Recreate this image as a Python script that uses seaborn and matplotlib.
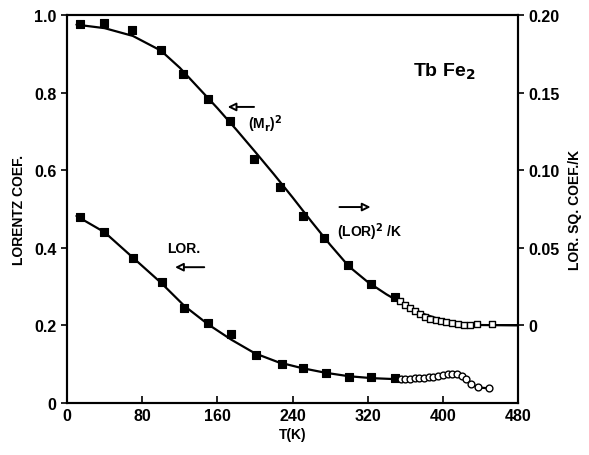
import matplotlib
matplotlib.use("Agg")
import matplotlib.pyplot as plt
import seaborn as sns
import pandas as pd

# ---- data ----
# upper series: (M_r)^2 and (LOR)^2/K (left-axis units)
t_upper = [14, 39, 69, 100, 123, 150, 173, 199, 227, 251, 274, 299, 324, 349]
v_upper = [0.977, 0.979, 0.961, 0.910, 0.848, 0.784, 0.727, 0.629, 0.556, 0.482, 0.425, 0.356, 0.307, 0.273]
t_upper_dense = [354, 360, 365, 370, 376, 381, 386, 393, 398, 403, 410, 416, 422, 429, 436, 452]
v_upper_dense = [0.263, 0.253, 0.245, 0.237, 0.229, 0.222, 0.216, 0.214, 0.211, 0.209, 0.206, 0.204, 0.201, 0.201, 0.204, 0.204]
t_upper_fit = [10, 40, 70, 100, 120, 140, 160, 180, 200, 220, 240, 260, 280, 300, 320, 340, 360, 380, 400, 420, 440, 480]
v_upper_fit = [0.975, 0.966, 0.946, 0.908, 0.864, 0.812, 0.760, 0.705, 0.648, 0.590, 0.530, 0.468, 0.408, 0.352, 0.312, 0.280, 0.252, 0.229, 0.213, 0.204, 0.201, 0.200]

# lower series: LOR.
t_lower = [14, 39, 70, 101, 125, 150, 175, 201, 229, 251, 276, 300, 324, 349]
v_lower = [0.480, 0.440, 0.374, 0.312, 0.245, 0.206, 0.178, 0.124, 0.100, 0.090, 0.077, 0.067, 0.067, 0.064]
t_lower_dense = [355, 360, 365, 370, 375, 380, 385, 390, 395, 400, 405, 410, 415, 420, 425, 430, 437, 449]
v_lower_dense = [0.062, 0.063, 0.063, 0.064, 0.064, 0.065, 0.066, 0.067, 0.069, 0.072, 0.074, 0.076, 0.074, 0.070, 0.062, 0.050, 0.040, 0.038]
t_lower_fit = [10, 40, 70, 100, 125, 150, 175, 200, 225, 250, 275, 300, 325, 345]
v_lower_fit = [0.482, 0.440, 0.375, 0.310, 0.250, 0.203, 0.163, 0.128, 0.105, 0.090, 0.078, 0.069, 0.064, 0.062]

x_ticks = [0, 80, 160, 240, 320, 400, 480]
y_left_ticks = [0, 0.2, 0.4, 0.6, 0.8, 1.0]
y_left_labels = ["0", "0.2", "0.4", "0.6", "0.8", "1.0"]
y_right_ticks = [0, 0.05, 0.10, 0.15, 0.20]
y_right_labels = ["0", "0.05", "0.10", "0.15", "0.20"]

sns.set_style("ticks")
plt.rcParams['font.family'] = ['Liberation Sans', 'DejaVu Sans']
plt.rcParams['font.weight'] = 'bold'
plt.rcParams['text.color'] = 'black'
plt.rcParams['axes.labelcolor'] = 'black'
plt.rcParams['xtick.color'] = 'black'
plt.rcParams['ytick.color'] = 'black'

fig = plt.figure(figsize=(5.89, 4.56), dpi=100)
ax = fig.add_axes([0.1138, 0.114, 0.7657, 0.851])

# fit lines
sns.lineplot(x=t_upper_fit, y=v_upper_fit, ax=ax, color="black", lw=1.6, estimator=None, sort=False)
lower_line_t = t_lower_fit + t_lower_dense
lower_line_v = v_lower_fit + v_lower_dense
sns.lineplot(x=lower_line_t, y=lower_line_v, ax=ax, color="black", lw=1.6, estimator=None, sort=False)
sns.lineplot(x=[452, 480], y=[0.2, 0.2], ax=ax, color="black", lw=1.4)

# markers
sns.scatterplot(x=t_upper, y=v_upper, ax=ax, marker="s", s=32, color="black", edgecolor="black", linewidth=0.8, zorder=3)
sns.scatterplot(x=t_lower, y=v_lower, ax=ax, marker="s", s=32, color="black", edgecolor="black", linewidth=0.8, zorder=3)
sns.scatterplot(x=t_upper_dense, y=v_upper_dense, ax=ax, marker="s", s=24, color="white", edgecolor="black", linewidth=1.0, zorder=3)
sns.scatterplot(x=t_lower_dense, y=v_lower_dense, ax=ax, marker="o", s=24, color="white", edgecolor="black", linewidth=1.0, zorder=3)

ax.set_xlim(0, 480)
ax.set_ylim(0, 1.0)
ax.set_xticks(x_ticks)
ax.set_xticklabels([str(v) for v in x_ticks], fontsize=11.5, fontweight="bold")
ax.set_yticks(y_left_ticks)
ax.set_yticklabels(y_left_labels, fontsize=11.5, fontweight="bold")
ax.tick_params(axis="x", direction="in", length=5, width=1.2)
ax.tick_params(axis="y", direction="out", length=4, width=1.2)
ax.set_xlabel("T(K)", fontsize=10, fontweight="bold", labelpad=3)
ax.set_ylabel("LORENTZ COEF.", fontsize=10, fontweight="bold", labelpad=6)
for sp in ax.spines.values():
    sp.set_visible(True)
    sp.set_linewidth(1.5)
    sp.set_color("black")

ax2 = ax.twinx()
ax2.set_ylim(-0.05, 0.20)
ax2.set_yticks(y_right_ticks)
ax2.set_yticklabels(y_right_labels, fontsize=11.5, fontweight="bold")
ax2.tick_params(axis="y", direction="out", length=4, width=1.2)
ax2.set_ylabel("LOR. SQ. COEF./K", fontsize=10, fontweight="bold", labelpad=6)
for sp in ax2.spines.values():
    sp.set_linewidth(1.5)
    sp.set_color("black")

# annotations
ax.text(368, 0.856, "Tb Fe$_2$", fontsize=14, fontweight="bold", va="center", ha="left")
ax.annotate("", xy=(168, 0.763), xytext=(202, 0.763),
            arrowprops=dict(arrowstyle="-|>", fc="white", ec="black", lw=1.4, mutation_scale=12))
ax.text(193, 0.72, "(M$_\\mathbf{r}$)$^\\mathbf{2}$", fontsize=10, fontweight="bold", va="center", ha="left")
ax.annotate("", xy=(326, 0.505), xytext=(287, 0.505),
            arrowprops=dict(arrowstyle="-|>", fc="white", ec="black", lw=1.4, mutation_scale=12))
ax.text(287, 0.443, "(LOR)$^\\mathbf{2}$ /K", fontsize=10, fontweight="bold", va="center", ha="left")
ax.text(107, 0.40, "LOR.", fontsize=10, fontweight="bold", va="center", ha="left")
ax.annotate("", xy=(112, 0.35), xytext=(149, 0.35),
            arrowprops=dict(arrowstyle="-|>", fc="white", ec="black", lw=1.4, mutation_scale=12))

fig.savefig("out.png", dpi=100)
